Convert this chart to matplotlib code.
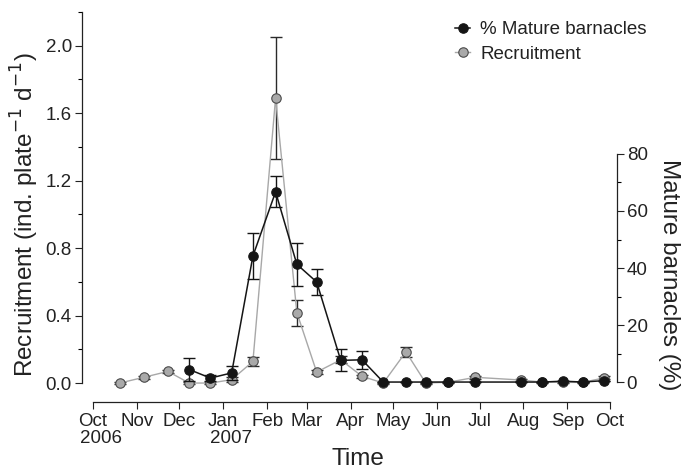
import numpy as np
import pandas as pd
import matplotlib
matplotlib.use("Agg")
import matplotlib.pyplot as plt
import matplotlib.dates as mdates
from matplotlib.ticker import FixedLocator
from matplotlib.legend_handler import HandlerLine2D

plt.rcParams['font.family'] = ['Liberation Sans', 'DejaVu Sans']

# ---- data ----
dates = pd.to_datetime([
    "2006-10-20", "2006-11-06", "2006-11-23", "2006-12-08", "2006-12-23",
    "2007-01-07", "2007-01-22", "2007-02-07", "2007-02-22", "2007-03-08",
    "2007-03-25", "2007-04-09", "2007-04-24", "2007-05-10", "2007-05-24",
    "2007-06-09", "2007-06-28", "2007-07-30", "2007-08-14", "2007-08-29",
    "2007-09-12", "2007-09-27"])

recruitment = [0.0, 0.034, 0.069, 0.0, 0.0, 0.02, 0.128, 1.69, 0.418, 0.065,
               0.138, 0.04, 0.0, 0.185, 0.0, 0.005, 0.034, 0.018, 0.006, 0.004,
               0.004, 0.031]
recruitment_err = [0.004, 0.008, 0.01, 0.004, 0.004, 0.015, 0.026, 0.36, 0.077,
                   0.012, 0.02, 0.01, 0.003, 0.03, 0.003, 0.003, 0.008, 0.006,
                   0.003, 0.003, 0.003, 0.008]

mature = [np.nan, np.nan, np.nan, 4.4, 1.4, 3.2, 44.2, 66.7, 41.3, 35.1,
          7.6, 7.8, 0.0, 0.0, 0.0, 0.0, 0.0, 0.0, 0.0, 0.3, 0.0, 0.5]
mature_err = [np.nan, np.nan, np.nan, 4.0, 1.0, 2.6, 8.2, 5.4, 7.5, 4.7,
              3.9, 3.1, 0.0, 0.0, 0.0, 0.0, 0.0, 0.0, 0.0, 0.0, 0.0, 0.0]

month_ticks = pd.date_range("2006-10-01", "2007-10-01", freq="MS")
month_labels = ["Oct", "Nov", "Dec", "Jan", "Feb", "Mar", "Apr", "May",
                "Jun", "Jul", "Aug", "Sep", "Oct"]
year_labels = {"2006-10-01": "2006", "2007-01-01": "2007"}

# ---- figure ----
W, H = 686, 469
fig = plt.figure(figsize=(W / 100, H / 100), dpi=100)
ax = fig.add_axes([81.5 / W, 1 - 402 / H, (617 - 81.5) / W, (402 - 12) / H])
ax2 = ax.twinx()

TICK_FS = 13.5
LABEL_FS = 17.5
txt_col = "#222222"
gray_line = "#a8a8a8"
gray_face = "#a9a9a9"
gray_edge = "#4a4a4a"
blk = "#151515"
MS = 6.8
CAP = 4.4

ax.errorbar(dates, recruitment, yerr=recruitment_err, fmt="none",
            ecolor="#2a2a2a", elinewidth=1.0, capsize=CAP, capthick=1.0, zorder=2)
l_rec, = ax.plot(dates, recruitment, color=gray_line, lw=1.0, marker="o",
                 ms=MS, mfc=gray_face, mec=gray_edge, mew=0.8, zorder=3,
                 label="Recruitment")

ax2.errorbar(dates, mature, yerr=mature_err, fmt="none",
             ecolor=blk, elinewidth=1.0, capsize=CAP, capthick=1.0, zorder=2)
l_mat, = ax2.plot(dates, mature, color=blk, lw=1.1, marker="o",
                  ms=MS, mfc=blk, mec=blk, mew=0.8, zorder=3,
                  label="% Mature barnacles")

# x axis
ax.set_xlim(pd.Timestamp("2006-09-23"), pd.Timestamp("2007-10-06"))
ax.set_xticks(month_ticks)
ax.set_xticklabels(month_labels)
ax.spines["bottom"].set_bounds(mdates.date2num(month_ticks[0]),
                               mdates.date2num(month_ticks[-1]))
for k, v in year_labels.items():
    ax.annotate(v, xy=(mdates.date2num(pd.Timestamp(k)), 0),
                xycoords=("data", "axes fraction"),
                xytext=(-13, -28), textcoords="offset pixels", ha="left", va="top",
                fontsize=TICK_FS, color=txt_col)
ax.set_xlabel("Time", fontsize=LABEL_FS, color=txt_col)
ax.xaxis.set_label_coords(0.516, -0.117)

# left y
ax.set_ylim(-0.1124, 2.2)
ax.yaxis.set_major_locator(FixedLocator([0.0, 0.4, 0.8, 1.2, 1.6, 2.0]))
ax.yaxis.set_minor_locator(FixedLocator([0.2, 0.6, 1.0, 1.4, 1.8, 2.2]))
ax.set_yticklabels(["0.0", "0.4", "0.8", "1.2", "1.6", "2.0"])
ax.spines["left"].set_bounds(0, 2.2)
ax.set_ylabel("Recruitment (ind. plate$^{-1}$ d$^{-1}$)", fontsize=LABEL_FS,
              color=txt_col, va="center")
ax.yaxis.set_label_coords(-0.105, 0.48)

# right y
ax2.set_ylim(-7.0, 129.8)
ax2.yaxis.set_major_locator(FixedLocator([0, 20, 40, 60, 80]))
ax2.yaxis.set_minor_locator(FixedLocator([10, 30, 50, 70]))
ax2.spines["right"].set_bounds(0, 80)
ax2.set_ylabel("Mature barnacles (%)", fontsize=LABEL_FS, rotation=-90,
               va="center", ha="center", color=txt_col)
ax2.yaxis.set_label_coords(1.097, 0.326)

for a in (ax, ax2):
    a.spines["top"].set_visible(False)
    a.tick_params(axis="both", which="major", direction="out", length=5, width=0.8,
                  labelsize=TICK_FS, colors=txt_col, pad=2)
    a.tick_params(axis="both", which="minor", direction="out", length=3, width=0.8)
    for s in a.spines.values():
        s.set_linewidth(0.9)
        s.set_color(txt_col)
ax.spines["right"].set_visible(False)
ax2.spines["left"].set_visible(False)
ax2.spines["bottom"].set_visible(False)
ax.tick_params(axis="x", pad=3)


class LeftMarkerHandler(HandlerLine2D):
    def get_xdata(self, legend, xdescent, ydescent, width, height, fontsize):
        return [-xdescent, -xdescent + width], [-xdescent]


leg = ax.legend([l_mat, l_rec], ["% Mature barnacles", "Recruitment"],
                handler_map={l_mat: LeftMarkerHandler(numpoints=1),
                             l_rec: LeftMarkerHandler(numpoints=1)},
                loc="upper left", bbox_to_anchor=(455 / W, 1 - 21 / H),
                bbox_transform=fig.transFigure, frameon=False, fontsize=TICK_FS,
                handlelength=0.8, handletextpad=0.55, labelspacing=0.4,
                borderaxespad=0, borderpad=0)
for t in leg.get_texts():
    t.set_color(txt_col)
leg.set_zorder(10)

fig.savefig("out.png", dpi=100)
